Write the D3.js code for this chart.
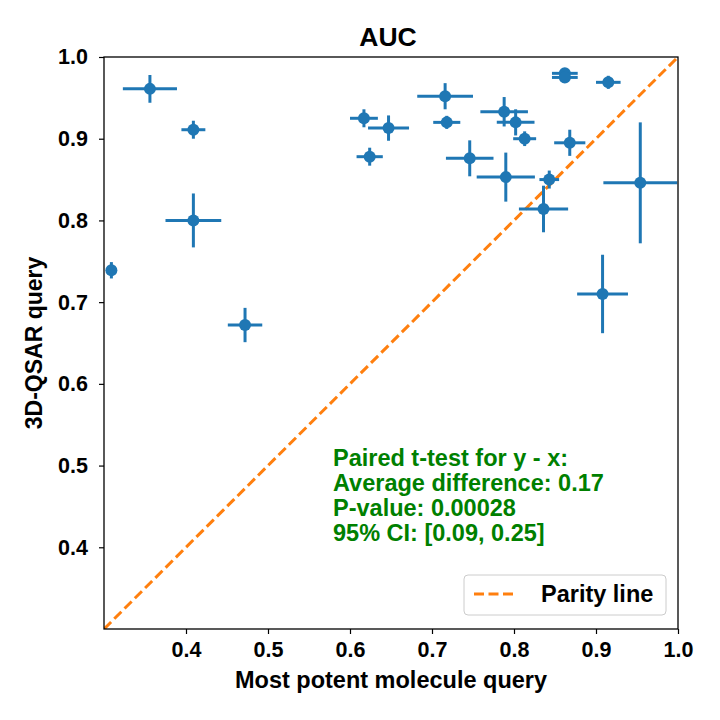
<!DOCTYPE html>
<html>
<head>
<meta charset="utf-8">
<script src="https://cdn.jsdelivr.net/npm/d3@7"></script>
<style>
  html, body { margin: 0; padding: 0; background: #fff; }
  svg { display: block; }
  text { font-family: "Liberation Sans", Arial, sans-serif; font-weight: bold; }
</style>
</head>
<body>
<svg id="chart" width="720" height="720"></svg>
<script>
// ---- data ----
const xVals = [0.356, 0.409, 0.409, 0.309, 0.472, 0.617, 0.647, 0.624, 0.716, 0.718, 0.746, 0.788,
               0.802, 0.813, 0.790, 0.843, 0.836, 0.868, 0.862, 0.862, 0.915, 0.954, 0.908];
const yVals = [0.961, 0.911, 0.800, 0.739, 0.672, 0.925, 0.913, 0.878, 0.952, 0.920, 0.876, 0.933,
               0.920, 0.900, 0.853, 0.850, 0.814, 0.895, 0.980, 0.975, 0.969, 0.846, 0.710];
const xErr  = [0.033, 0.0146, 0.034, 0.005, 0.021, 0.017, 0.025, 0.016, 0.034, 0.0165, 0.029, 0.029,
               0.023, 0.014, 0.0355, 0.012, 0.030, 0.019, 0.0157, 0.0157, 0.015, 0.045, 0.031];
const yErr  = [0.017, 0.011, 0.033, 0.010, 0.021, 0.011, 0.0155, 0.011, 0.016, 0.008, 0.022, 0.018,
               0.016, 0.009, 0.030, 0.011, 0.0285, 0.016, 0.005, 0.005, 0.008, 0.074, 0.048];
const xTicks = [0.4, 0.5, 0.6, 0.7, 0.8, 0.9, 1.0];
const yTicks = [0.4, 0.5, 0.6, 0.7, 0.8, 0.9, 1.0];
const parity = [0.3, 1.0];
const titleText = "AUC";
const xLabel = "Most potent molecule query";
const yLabel = "3D-QSAR query";
const statLines = ["Paired t-test for y - x:", "Average difference: 0.17", "P-value: 0.00028", "95% CI: [0.09, 0.25]"];
const legendLabel = "Parity line";

// ---- layout ----
const L = 104, R = 678, T = 57, B = 629;
const blue = "#1f77b4", orange = "#ff7f0e";
const svg = d3.select("#chart");

const x = d3.scaleLinear().domain([0.3, 1.0]).range([L, R]);
const y = d3.scaleLinear().domain([0.3, 1.0]).range([B, T]);

const points = xVals.map((v, i) => ({x: v, y: yVals[i], ex: xErr[i], ey: yErr[i]}));

// clip
svg.append("clipPath").attr("id", "clip").append("rect")
  .attr("x", L).attr("y", T).attr("width", R - L).attr("height", B - T);

const plot = svg.append("g").attr("clip-path", "url(#clip)");

// parity line
plot.append("line")
  .attr("x1", x(parity[0])).attr("y1", y(parity[0]))
  .attr("x2", x(parity[1])).attr("y2", y(parity[1]))
  .attr("stroke", orange).attr("stroke-width", 3).attr("stroke-dasharray", "10,4.5");

// error bars
const eb = plot.append("g").attr("stroke", blue).attr("stroke-width", 3);
eb.selectAll("line.h").data(points).join("line").attr("class", "h")
  .attr("x1", d => x(d.x - d.ex)).attr("x2", d => x(d.x + d.ex))
  .attr("y1", d => y(d.y)).attr("y2", d => y(d.y));
eb.selectAll("line.v").data(points).join("line").attr("class", "v")
  .attr("x1", d => x(d.x)).attr("x2", d => x(d.x))
  .attr("y1", d => y(d.y - d.ey)).attr("y2", d => y(d.y + d.ey));

// markers
plot.append("g").selectAll("circle").data(points).join("circle")
  .attr("cx", d => x(d.x)).attr("cy", d => y(d.y)).attr("r", 6).attr("fill", blue);

// axes
const xAxis = svg.append("g").attr("transform", `translate(0,${B})`)
  .call(d3.axisBottom(x).tickValues(xTicks).tickFormat(d3.format(".1f")).tickSize(5).tickPadding(8).tickSizeOuter(0));
const yAxis = svg.append("g").attr("transform", `translate(${L},0)`)
  .call(d3.axisLeft(y).tickValues(yTicks).tickFormat(d3.format(".1f")).tickSize(5).tickPadding(11).tickSizeOuter(0));
[xAxis, yAxis].forEach(a => {
  a.select(".domain").remove();
  a.selectAll(".tick line").attr("stroke", "#000").attr("stroke-width", 1.2);
  a.selectAll(".tick text").attr("fill", "#000").style("font-size", "21.5px")
    .style("font-family", '"Liberation Sans", Arial, sans-serif').style("font-weight", "bold");
});

// frame
svg.append("rect").attr("x", L).attr("y", T).attr("width", R - L).attr("height", B - T)
  .attr("fill", "none").attr("stroke", "#000").attr("stroke-width", 1.3);

// title & labels
svg.append("text").attr("x", 388).attr("y", 46).attr("text-anchor", "middle")
  .style("font-size", "26.5px").text(titleText);
svg.append("text").attr("x", (L + R) / 2).attr("y", 688).attr("text-anchor", "middle")
  .style("font-size", "23.5px").text(xLabel);
svg.append("text").attr("transform", `translate(42,${(T + B) / 2}) rotate(-90)`).attr("text-anchor", "middle")
  .style("font-size", "23px").text(yLabel);

// stats text
svg.append("g").selectAll("text").data(statLines).join("text")
  .attr("x", 333).attr("y", (d, i) => 466 + i * 25)
  .attr("fill", "#008000").style("font-size", "23.5px").text(d => d);

// legend
const lg = svg.append("g");
lg.append("rect").attr("x", 464).attr("y", 575).attr("width", 202).attr("height", 40).attr("rx", 4)
  .attr("fill", "#fff").attr("fill-opacity", 0.8).attr("stroke", "#cccccc").attr("stroke-width", 1);
lg.append("line").attr("x1", 474).attr("x2", 517).attr("y1", 594).attr("y2", 594)
  .attr("stroke", orange).attr("stroke-width", 3).attr("stroke-dasharray", "10,4.5");
lg.append("text").attr("x", 541).attr("y", 602).style("font-size", "23.5px").text(legendLabel);
</script>
</body>
</html>
